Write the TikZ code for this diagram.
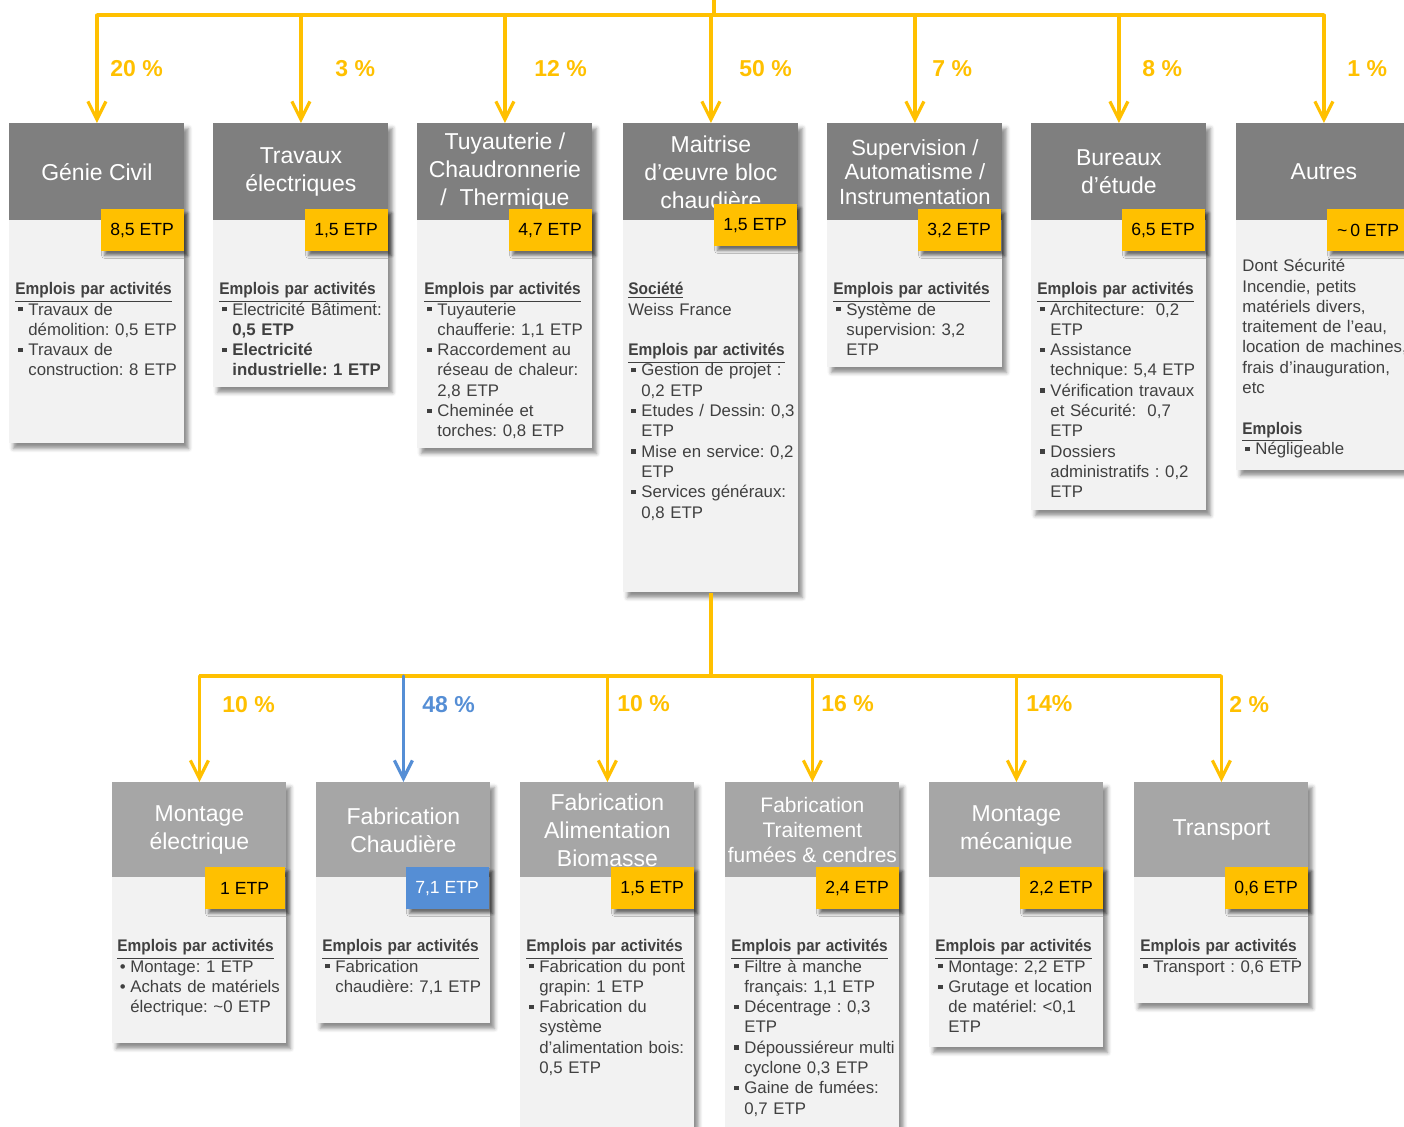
\documentclass[tikz,border=0pt]{standalone}
\usepackage{fontspec}
\setmainfont{Liberation Sans}
\usetikzlibrary{arrows.meta,shadows.blur}

\definecolor{grisfonce}{HTML}{7F7F7F}
\definecolor{grisclair}{HTML}{A6A6A6}
\definecolor{fondgris}{HTML}{F2F2F2}
\definecolor{jaune}{HTML}{FFC000}
\definecolor{bleu}{HTML}{558ED5}
\definecolor{texte}{HTML}{404040}

\setlength{\parindent}{0pt}
\frenchspacing
\newcommand{\titre}[1]{\scalebox{0.92}[1]{\underline{\textbf{#1}}}}
\newcommand{\puce}{\par\hangindent=6.5pt\hangafter=1\noindent\makebox[6.5pt][l]{\hspace{1.5pt}\raisebox{1.8pt}{\rule{2.1pt}{2.1pt}}}}
\newcommand{\rond}{\par\hangindent=6.5pt\hangafter=1\noindent\makebox[6.5pt][l]{\hspace{1.2pt}\textbullet}}
\newcommand{\saut}{\par\vspace{10.15pt}}
\newcommand{\finpar}{\par}

\begin{document}
\begin{tikzpicture}[x=0.5pt, y=-0.5pt,
  fond/.style={anchor=north west, fill=fondgris, inner sep=0pt, minimum width=87.5pt,
    blur shadow={shadow xshift=2pt, shadow yshift=-2.5pt, shadow blur radius=2pt, shadow opacity=45}},
  entete/.style={anchor=north west, fill=grisfonce, text=white, inner sep=1pt, minimum width=87.5pt,
    minimum height=48.5pt, align=center, font=\fontsize{11.5}{14}\selectfont},
  entete2/.style={entete, fill=grisclair, minimum width=87pt, minimum height=47.5pt},
  etp/.style={anchor=north east, fill=jaune, inner sep=0pt, minimum width=41.5pt, minimum height=21pt,
    font=\fontsize{8.8}{10}\selectfont,
    blur shadow={shadow xshift=2pt, shadow yshift=-2pt, shadow blur radius=1.5pt, shadow opacity=55}},
  detail/.style={anchor=north west, inner sep=0pt, text width=88pt, align=left, text=texte,
    font=\fontsize{8.4}{10.15}\selectfont},
  pct/.style={anchor=west, inner sep=0pt, text=jaune, font=\fontsize{11.5}{13}\selectfont\bfseries},
  ligne/.style={draw=jaune, line width=2.4pt},
  fleche/.style={draw=jaune, line width=1.6pt, line cap=round, -{Straight Barb[length=9pt, width=9pt]}}]

  \useasboundingbox (0,0) rectangle (1404,1127);
  \clip (0,0) rectangle (1404,1127);

  % rangee du haut
  \node[fond, minimum height=160pt] (f1) at (9,123) {};
  \node[entete] (h1) at (9,123) {Génie Civil};
  \node[etp] (t1) at (184,209) {8,5 ETP};
  \node[detail] (e1) at (15,282) {\titre{Emplois par activités}
    \puce Travaux de\newline démolition: 0,5 ETP
    \puce Travaux de\newline construction: 8 ETP\finpar};

  \node[fond, minimum height=132pt] (f2) at (213,123) {};
  \node[entete] (h2) at (213,123) {Travaux\\électriques};
  \node[etp] (t2) at (388,209) {1,5 ETP};
  \node[detail] (e2) at (219,282) {\titre{Emplois par activités}
    \puce Electricité Bâtiment:\newline\textbf{0,5 ETP}
    \puce \textbf{Electricité\newline industrielle: 1 ETP}\finpar};

  \node[fond, minimum height=162.5pt] (f3) at (417,123) {};
  \node[entete] (h3) at (417,123) {Tuyauterie /\\Chaudronnerie\\/ \ Thermique};
  \node[etp] (t3) at (592,209) {4,7 ETP};
  \node[detail] (e3) at (424,282) {\titre{Emplois par activités}
    \puce Tuyauterie\newline chaufferie: 1,1 ETP
    \puce Raccordement au\newline réseau de chaleur:\newline 2,8 ETP
    \puce Cheminée et\newline torches: 0,8 ETP\finpar};

  \node[fond, minimum height=234.5pt] (f4) at (623,123) {};
  \node[entete] (h4) at (623,123) {Maitrise\\d’œuvre bloc\\chaudière};
  \node[etp] (t4) at (797,204) {1,5 ETP};
  \node[detail] (e4) at (628,282) {\titre{Société}\\Weiss France
    \saut\titre{Emplois par activités}
    \puce Gestion de projet :\newline 0,2 ETP
    \puce Etudes / Dessin: 0,3\newline ETP
    \puce Mise en service: 0,2\newline ETP
    \puce Services généraux:\newline 0,8 ETP\finpar};

  \node[fond, minimum height=122pt] (f5) at (827,123) {};
  \node[entete, font=\fontsize{11}{12.3}\selectfont] (h5) at (827,123) {Supervision /\\Automatisme /\\Instrumentation};
  \node[etp] (t5) at (1001,209) {3,2 ETP};
  \node[detail] (e5) at (833,282) {\titre{Emplois par activités}
    \puce Système de\newline supervision: 3,2\newline ETP\finpar};

  \node[fond, minimum height=193.5pt] (f6) at (1031,123) {};
  \node[entete] (h6) at (1031,123) {Bureaux\\d’étude};
  \node[etp] (t6) at (1205,209) {6,5 ETP};
  \node[detail] (e6) at (1037,282) {\titre{Emplois par activités}
    \puce Architecture: \ 0,2\newline ETP
    \puce Assistance\newline technique: 5,4 ETP
    \puce Vérification travaux\newline et Sécurité: \ 0,7\newline ETP
    \puce Dossiers\newline administratifs : 0,2\newline ETP\finpar};

  \node[fond, minimum height=173.5pt] (f7) at (1236,123) {};
  \node[entete] (h7) at (1236,123) {Autres};
  \node[etp] (t7) at (1410,209) {\textasciitilde\,0 ETP};
  \node[detail] (e7) at (1242,259) {Dont Sécurité\\Incendie, petits\\matériels divers,\\traitement de l’eau,\\location de machines,\\frais d’inauguration,\\etc
    \saut\titre{Emplois}
    \puce Négligeable\finpar};

  % rangee du bas
  \node[fond, minimum width=87pt, minimum height=130.5pt] (f8) at (112,782) {};
  \node[entete2] (h8) at (112,782) {Montage\\électrique};
  \node[etp, minimum width=40pt] (t8) at (285,867) {1 ETP};
  \node[detail] (e8) at (117,939) {\titre{Emplois par activités}
    \rond Montage: 1 ETP
    \rond Achats de matériels\newline électrique: \textasciitilde0 ETP\finpar};

  \node[fond, minimum width=87pt, minimum height=120.5pt] (f9) at (316,782) {};
  \node[entete2] (h9) at (316,782) {Fabrication\\Chaudière};
  \node[etp, fill=bleu, text=white] (t9) at (489,867) {7,1 ETP};
  \node[detail] (e9) at (322,939) {\titre{Emplois par activités}
    \puce Fabrication\newline chaudière: 7,1 ETP\finpar};

  \node[fond, minimum width=87pt, minimum height=189pt] (f10) at (520,782) {};
  \node[entete2] (h10) at (520,782) {Fabrication\\Alimentation\\Biomasse};
  \node[etp] (t10) at (694,867) {1,5 ETP};
  \node[detail] (e10) at (526,939) {\titre{Emplois par activités}
    \puce Fabrication du pont\newline grapin: 1 ETP
    \puce Fabrication du\newline système\newline d’alimentation bois:\newline 0,5 ETP\finpar};

  \node[fond, minimum width=87pt, minimum height=189pt] (f11) at (725,782) {};
  \node[entete2, font=\fontsize{10.5}{12.5}\selectfont] (h11) at (725,782) {Fabrication\\Traitement\\fumées \& cendres};
  \node[etp] (t11) at (899,867) {2,4 ETP};
  \node[detail] (e11) at (731,939) {\titre{Emplois par activités}
    \puce Filtre à manche\newline français: 1,1 ETP
    \puce Décentrage : 0,3\newline ETP
    \puce Dépoussiéreur multi\newline cyclone 0,3 ETP
    \puce Gaine de fumées:\newline 0,7 ETP\finpar};

  \node[fond, minimum width=87pt, minimum height=132.5pt] (f12) at (929,782) {};
  \node[entete2] (h12) at (929,782) {Montage\\mécanique};
  \node[etp] (t12) at (1103,867) {2,2 ETP};
  \node[detail] (e12) at (935,939) {\titre{Emplois par activités}
    \puce Montage: 2,2 ETP
    \puce Grutage et location\newline de matériel: <0,1\newline ETP\finpar};

  \node[fond, minimum width=87pt, minimum height=110.5pt] (f13) at (1134,782) {};
  \node[entete2] (h13) at (1134,782) {Transport};
  \node[etp] (t13) at (1308,867) {0,6 ETP};
  \node[detail] (e13) at (1140,939) {\titre{Emplois par activités}
    \puce Transport : 0,6 ETP\finpar};

  % liaisons du haut
  \coordinate (racine) at (714,0);
  \coordinate (haut) at (714,15);
  \draw[ligne] (racine) -- (haut);
  \draw[ligne] (h1.north |- haut) -- (h7.north |- haut);
  \draw[fleche] (h1.north |- haut) -- (h1.north);
  \draw[fleche] (h2.north |- haut) -- (h2.north);
  \draw[fleche] (h3.north |- haut) -- (h3.north);
  \draw[fleche] (h4.north |- haut) -- (h4.north);
  \draw[fleche] (h5.north |- haut) -- (h5.north);
  \draw[fleche] (h6.north |- haut) -- (h6.north);
  \draw[fleche] (h7.north |- haut) -- (h7.north);

  \node[pct] (p1) at (110,69) {20 \%};
  \node[pct] (p2) at (335,69) {3 \%};
  \node[pct] (p3) at (534,69) {12 \%};
  \node[pct] (p4) at (739,69) {50 \%};
  \node[pct] (p5) at (932,69) {7 \%};
  \node[pct] (p6) at (1142,69) {8 \%};
  \node[pct] (p7) at (1347,69) {1 \%};

  % liaisons du bas
  \coordinate (bas) at (714,676);
  \draw[ligne] (f4.south) -- (f4.south |- bas);
  \draw[ligne] (h8.north |- bas) -- (h13.north |- bas);
  \draw[fleche] (h8.north |- bas) -- (h8.north);
  \draw[fleche, draw=bleu] (h9.north |- bas) -- (h9.north);
  \draw[fleche] (h10.north |- bas) -- (h10.north);
  \draw[fleche] (h11.north |- bas) -- (h11.north);
  \draw[fleche] (h12.north |- bas) -- (h12.north);
  \draw[fleche] (h13.north |- bas) -- (h13.north);

  \node[pct] (p8) at (222,705) {10 \%};
  \node[pct, text=bleu] (p9) at (422,705) {48 \%};
  \node[pct] (p10) at (617,704) {10 \%};
  \node[pct] (p11) at (821,704) {16 \%};
  \node[pct] (p12) at (1026,704) {14\%};
  \node[pct] (p13) at (1229,705) {2 \%};
\end{tikzpicture}
\end{document}
